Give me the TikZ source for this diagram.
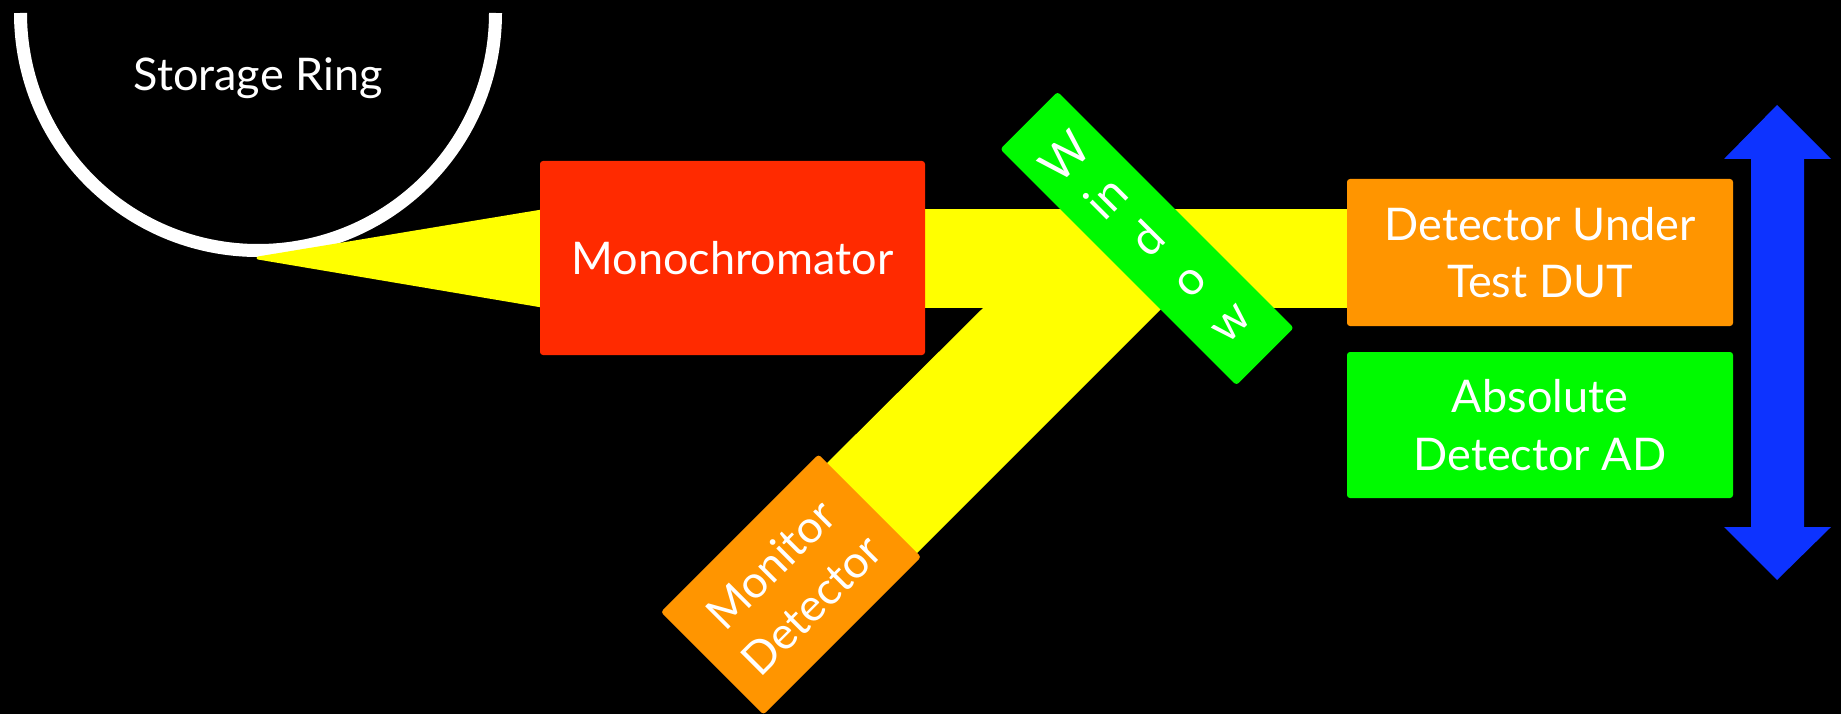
\documentclass[tikz,border=0pt]{standalone}
\usepackage{fontspec}
\setmainfont{Lato}
\definecolor{monored}{HTML}{FF2A00}
\definecolor{beamyellow}{HTML}{FFFF00}
\definecolor{dgreen}{HTML}{00FA00}
\definecolor{dorange}{HTML}{FF9500}
\definecolor{arrowblue}{HTML}{0D33FF}
\begin{document}
\begin{tikzpicture}[x=1pt,y=1pt,
  box/.style={rounded corners=3pt, inner sep=0pt, text=white,
    font=\fontsize{45}{57.5}\selectfont, align=center},
  beam/.style={fill=beamyellow}]
\useasboundingbox (0,0) rectangle (1841,-714);
\fill[black] (0,0) rectangle (1841,-714);
% storage ring
\draw[white, line width=13pt] (20.5,-13) arc[start angle=180, end angle=360, radius=237.5];
\node[text=white, font=\fontsize{45}{57.5}\selectfont, anchor=base] (ring) at (258,-91) {Storage Ring};
% beams
\coordinate (apex) at (258,-258);
\fill[beamyellow, draw=beamyellow, line width=3pt, line join=round] (apex) -- (545,-210.5) -- (545,-306.5) -- cycle;
\fill[beam] (540,-209) rectangle (1350,-308);
\fill[beam] (983,-308) -- (1162,-308) -- (907,-563) -- (817,-473) -- cycle;
% boxes
\node[box, fill=monored, minimum width=385, minimum height=194] (mono) at (732.5,-258) {Monochromator};
\node[box, fill=dgreen, minimum width=81, minimum height=334, rotate=45, font=\fontsize{47}{58}\selectfont] (window) at (1147,-238.5) {W\\in\\d\\o\\w};
\node[box, fill=dorange, minimum width=223, minimum height=145, rotate=45] (monitor) at (791,-584.5) {Monitor\\Detector};
\node[box, fill=dorange, minimum width=386, minimum height=147] (dut) at (1540,-252.5) {Detector Under\\Test DUT};
\node[box, fill=dgreen, minimum width=386, minimum height=146] (ad) at (1540,-425) {Absolute\\Detector AD};
% movement arrow
\fill[arrowblue] (1777,-105) -- (1831,-159) -- (1804,-159) -- (1804,-527) -- (1831,-527) -- (1777,-580) -- (1724,-527) -- (1751,-527) -- (1751,-159) -- (1724,-159) -- cycle;
\end{tikzpicture}
\end{document}
